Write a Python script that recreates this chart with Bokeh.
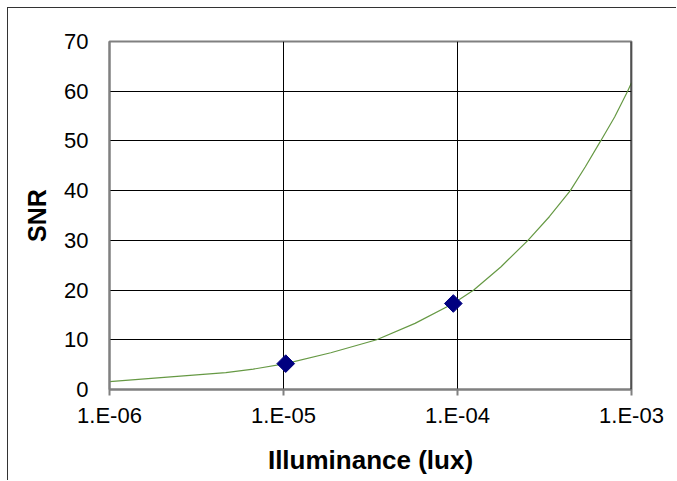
import math
from bokeh.plotting import figure
from bokeh.models import Range1d, FixedTicker, ColumnDataSource, Span
from bokeh.embed import file_html
from bokeh.resources import INLINE

# Data
curve_x = [1e-6, 2.15e-6, 4.66e-6, 6.7e-6, 1.03e-5, 1.87e-5, 3.43e-5, 5.7e-5,
           9.46e-5, 1.24e-4, 1.78e-4, 2.54e-4, 3.38e-4, 4.45e-4, 5.43e-4,
           6.65e-4, 8.0e-4, 9.5e-4, 1e-3]
curve_y = [1.57, 2.5, 3.4, 4.1, 5.2, 7.4, 10.0, 13.3,
           17.3, 20.0, 24.7, 30.0, 34.8, 40.0, 44.8,
           50.0, 54.8, 60.0, 61.7]
marker_x = [1.03e-5, 9.46e-5]
marker_y = [5.2, 17.3]
x_ticks = [1e-6, 1e-5, 1e-4, 1e-3]
x_tick_labels = ["1.E-06", "1.E-05", "1.E-04", "1.E-03"]
y_ticks = [0, 10, 20, 30, 40, 50, 60, 70]

FONT = "Liberation Sans"

p = figure(width=669, height=473, x_axis_type="log",
           x_range=Range1d(1e-6, 1e-3), y_range=Range1d(0, 70),
           output_backend="svg", toolbar_location=None,
           min_border_left=101, min_border_right=46,
           min_border_top=33, min_border_bottom=92)
p.styles = {"border-left": "1px solid #333333", "border-top": "1px solid #333333",
            "box-sizing": "border-box",
            "margin-left": "7px", "margin-top": "7px"}

p.outline_line_color = "#808080"
p.outline_line_width = 2
p.background_fill_color = "white"
p.border_fill_color = "white"

# grids
p.xgrid.ticker = FixedTicker(ticks=x_ticks)
p.ygrid.ticker = FixedTicker(ticks=y_ticks)
p.xgrid.grid_line_color = "black"
p.ygrid.grid_line_color = "black"
p.xgrid.grid_line_width = 1
p.ygrid.grid_line_width = 1
p.xgrid.minor_grid_line_color = None

# x axis
xa = p.xaxis[0]
xa.ticker = FixedTicker(ticks=x_ticks)
xa.major_label_overrides = {t: l for t, l in zip(x_ticks, x_tick_labels)}
xa.axis_line_color = "#808080"
xa.axis_line_width = 2
xa.major_tick_line_color = "#808080"
xa.major_tick_line_width = 2
xa.major_tick_out = 6
xa.major_tick_in = 0
xa.minor_tick_line_color = None
xa.major_label_standoff = 7
xa.major_label_text_font = FONT
xa.major_label_text_font_size = "22px"
xa.major_label_text_color = "black"
xa.axis_label = "Illuminance (lux)"
xa.axis_label_text_font = FONT
xa.axis_label_text_font_size = "26px"
xa.axis_label_text_font_style = "bold"
xa.axis_label_text_color = "black"
xa.axis_label_standoff = 14

# y axis
ya = p.yaxis[0]
ya.ticker = FixedTicker(ticks=y_ticks)
ya.axis_line_color = "#808080"
ya.axis_line_width = 2
ya.major_tick_line_color = None
ya.major_tick_out = 0
ya.major_tick_in = 0
ya.minor_tick_line_color = None
ya.major_label_standoff = 21
ya.major_label_text_font = FONT
ya.major_label_text_font_size = "22px"
ya.major_label_text_color = "black"
ya.axis_label = "SNR"
ya.axis_label_text_font = FONT
ya.axis_label_text_font_size = "25px"
ya.axis_label_text_font_style = "bold"
ya.axis_label_text_color = "black"
ya.axis_label_standoff = 10

# right edge of plot area is dark
p.add_layout(Span(location=1e-3, dimension="height", line_color="#202020", line_width=2))

src = ColumnDataSource(dict(x=curve_x, y=curve_y))
p.line("x", "y", source=src, line_color="#669944", line_width=1.2)

msrc = ColumnDataSource(dict(x=marker_x, y=marker_y))
p.scatter("x", "y", source=msrc, marker="square", size=12.5, angle=math.pi / 4,
          fill_color="#000080", line_color="#000080")

open("out.html", "w").write(file_html(p, INLINE))
